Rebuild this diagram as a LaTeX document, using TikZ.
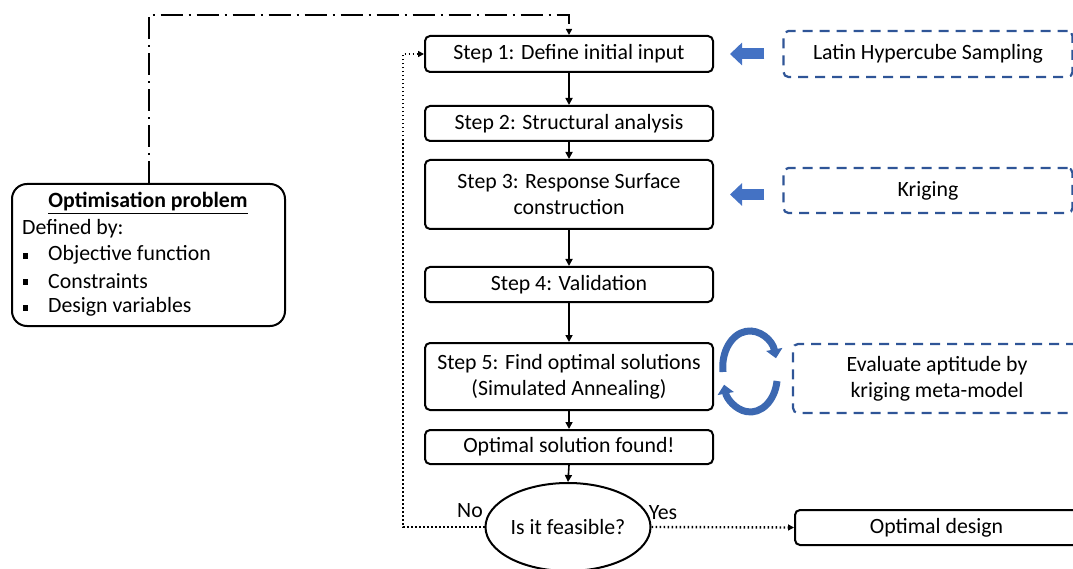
\documentclass[tikz,border=0pt]{standalone}
\usepackage{fontspec}
\setmainfont{Carlito}
\usetikzlibrary{arrows.meta,shapes.geometric}
\definecolor{dblue}{HTML}{2F5597}
\definecolor{mblue}{HTML}{4472C4}
\definecolor{cblue}{HTML}{3C68B1}
\tikzset{
  txt/.style={font=\fontsize{21.8}{26}\selectfont},
  stepbox/.style={draw, line width=2pt, rounded corners=5pt, minimum width=288pt, minimum height=36pt, inner sep=0pt, align=center, txt},
  dashbox/.style={draw=dblue, line width=2.2pt, dash pattern=on 10pt off 7pt, rounded corners=5pt, minimum width=289pt, inner sep=0pt, align=center, txt},
  conn/.style={line width=1.6pt, -{Triangle[length=7pt,width=7pt]}},
  dotconn/.style={line width=2.4pt, dash pattern=on 1.6pt off 2.4pt, -{Triangle[length=6pt,width=6pt]}},
  ddconn/.style={line width=2pt, dash pattern=on 22pt off 6pt on 2pt off 6pt, -{Triangle[length=6pt,width=6pt]}},
  blockarrow/.style={draw=mblue, line width=11pt, -{Triangle[length=12pt,width=22pt]}},
  cyc/.style={draw=cblue, line width=7pt, -{Triangle[length=9pt,width=16pt]}},
}
\begin{document}
\begin{tikzpicture}[x=1pt,y=1pt]
\useasboundingbox (0,0) rectangle (1073,-569);

% main column
\node[stepbox] (s1) at (569,-54) {Step 1: Define initial input};
\node[stepbox, minimum height=35pt] (s2) at (569,-123.5) {Step 2: Structural analysis};
\node[stepbox, minimum height=69pt] (s3) at (569,-194.5) {Step 3: Response Surface\\construction};
\node[stepbox, minimum height=35pt] (s4) at (569,-284.5) {Step 4: Validation};
\node[stepbox, minimum height=67pt] (s5) at (569,-376.5) {Step 5: Find optimal solutions\\(Simulated Annealing)};
\node[stepbox, minimum height=34pt] (s6) at (569,-447) {Optimal solution found!};
\node[draw, line width=2pt, ellipse, minimum width=165pt, minimum height=88pt, inner sep=0pt, txt] (dec) at (568,-527) {Is it feasible?};
\node[stepbox, minimum width=283pt, minimum height=35pt] (od) at (936.5,-527.5) {Optimal design};

% side boxes
\node[dashbox, minimum height=46pt] (lhs) at (928,-54) {Latin Hypercube Sampling};
\node[dashbox, minimum height=45pt] (kr) at (928,-190.5) {Kriging};
\node[dashbox, minimum width=288pt, minimum height=69pt] (ev) at (937,-378.5) {Evaluate aptitude by\\kriging meta-model};

% optimisation problem box
\node[draw, line width=2pt, rounded corners=15pt, minimum width=273pt, minimum height=142pt, inner sep=0pt] (opt) at (148.5,-255) {};
\node[txt, anchor=center] (optt) at (148,-203) {\underline{\textbf{Optimisation problem}}};
\node[txt, anchor=west, inner sep=0pt] (optd) at (22,-229) {Defined by:};
\node[txt, anchor=west, inner sep=0pt] (opt1) at (48,-255) {Objective function};
\node[txt, anchor=west, inner sep=0pt] (opt2) at (48,-281) {Constraints};
\node[txt, anchor=west, inner sep=0pt] (opt3) at (48,-307) {Design variables};
\foreach \yy/\nm in {-256/b1,-282/b2,-308/b3}{
  \node[fill=black, minimum size=5.5pt, inner sep=0pt] (\nm) at (25.5,\yy) {};
}

% solid connectors
\draw[conn] (s1) -- (s2);
\draw[conn] (s2) -- (s3);
\draw[conn] (s3) -- (s4);
\draw[conn] (s4) -- (s5);
\draw[conn] (s5) -- (s6);
\draw[conn] (s6.south) -- (dec.north);

% dotted loop and yes
\coordinate (loopc) at (403,-527);
\draw[dotconn] (dec.west) -- (loopc) |- (s1.west);
\draw[dotconn] (dec.east) -- (od.west);
\node[txt] (no) at (470,-511) {No};
\node[txt] (yes) at (663,-513) {Yes};

% dash-dot from optimisation problem
\coordinate (ddc) at (569,-15);
\draw[ddconn] (opt.north) |- (ddc) -- (s1.north);

% blue block arrows
\draw[blockarrow, shorten <=18pt, shorten >=16pt] (lhs.west) -- (s1.east);
\draw[blockarrow, shorten <=18pt, shorten >=16pt] (lhs.west |- s3.east) -- (s3.east);

% circular arrows
\draw[cyc] (723,-372) arc[start angle=188, end angle=14, x radius=27pt, y radius=36pt];
\draw[cyc] (777,-381) arc[start angle=-8, end angle=-166, x radius=27pt, y radius=36pt];
\end{tikzpicture}
\end{document}
